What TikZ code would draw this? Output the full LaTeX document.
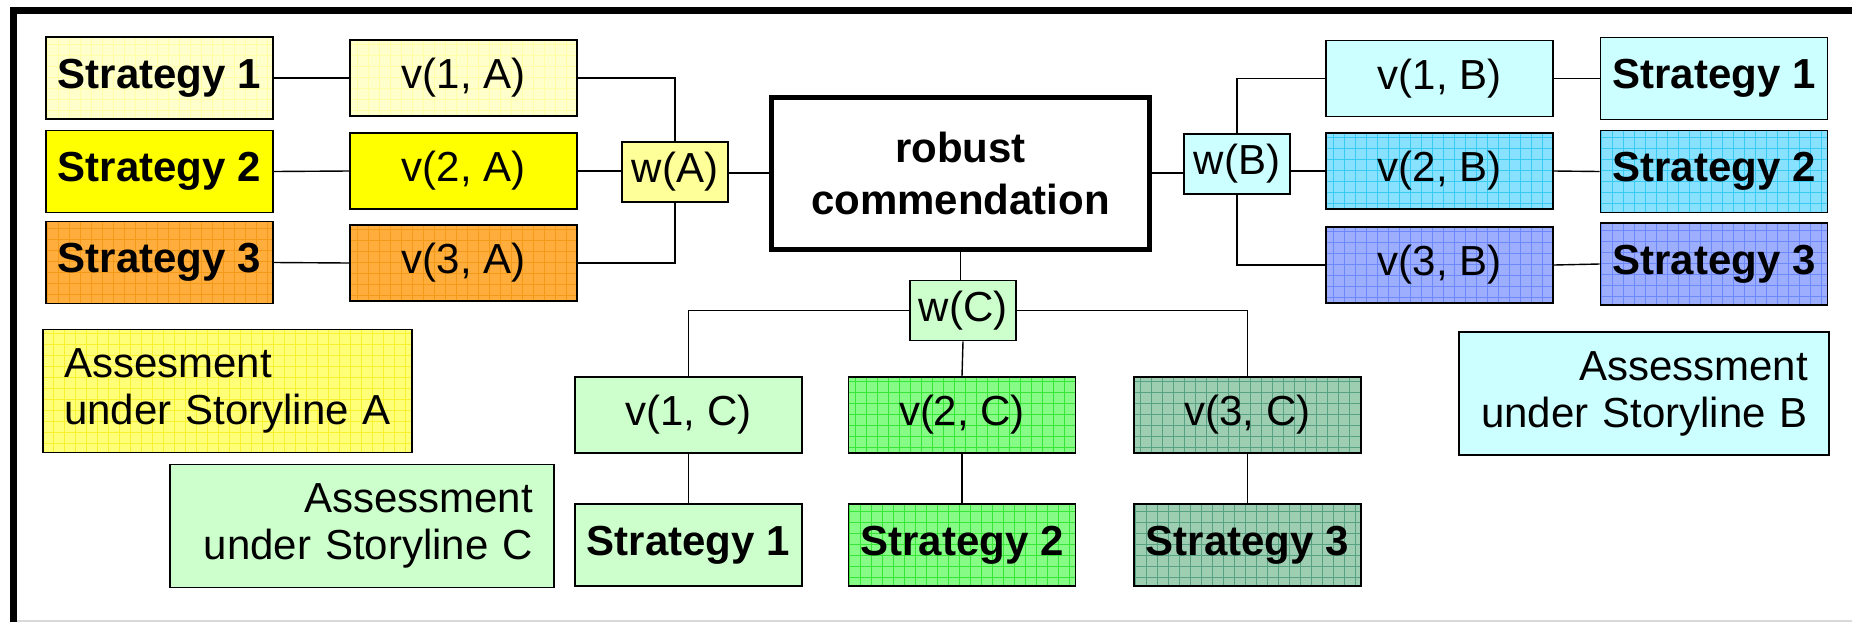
\documentclass[tikz,border=0pt]{standalone}
\usepackage{fontspec}
\setmainfont{Liberation Sans}

% fills
\definecolor{lyel}{HTML}{FFFFCC}
\definecolor{lyelline}{HTML}{FFFFA8}
\definecolor{yel}{HTML}{FFFF00}
\definecolor{orng}{HTML}{FFAD3C}
\definecolor{orngline}{HTML}{F59A18}
\definecolor{wyel}{HTML}{FFFF99}
\definecolor{asyel}{HTML}{FFFF78}
\definecolor{asyelline}{HTML}{F8F030}
\definecolor{lcyan}{HTML}{CCFFFF}
\definecolor{cyanfill}{HTML}{88E2FF}
\definecolor{cyanline}{HTML}{3ACBF5}
\definecolor{bluefill}{HTML}{9EAEFF}
\definecolor{blueline}{HTML}{6C88FA}
\definecolor{lgreen}{HTML}{CCFFCC}
\definecolor{greenfill}{HTML}{86FC86}
\definecolor{greenline}{HTML}{38E638}
\definecolor{sagefill}{HTML}{9ECEB2}
\definecolor{sageline}{HTML}{56A282}

\begin{document}
\begin{tikzpicture}[x=0.5pt,y=-0.5pt,
  box/.style={draw=black, line width=0.9pt, minimum width=113.5pt, inner sep=0pt,
    align=center, font=\fontsize{21}{25.5}\selectfont},
  strat/.style={box, minimum height=41pt, font=\fontsize{21}{25.5}\selectfont\bfseries},
  val/.style={box, minimum height=38pt},
  wbox/.style={box, minimum width=53pt, minimum height=30pt},
  assess/.style={box, minimum height=61.5pt, inner xsep=10.5pt,
    font=\fontsize{21}{23.5}\selectfont},
  meshed/.style 2 args={fill=#1, path picture={
    \draw[draw=#2, line width=0.4pt, step=5.5pt]
      (path picture bounding box.south west) grid (path picture bounding box.north east);}},
  link/.style={draw=black, line width=0.7pt}
]
\useasboundingbox (0,0) rectangle (1852,622);

% outer frame
\draw[gray!30, line width=1pt] (17,621) -- (1852,621);
\draw[line width=3.5pt] (13.5,622) -- (13.5,10.5) -- (1852,10.5);

% centre
\node[draw=black, line width=2.5pt, minimum width=189pt, minimum height=76pt,
  align=center, font=\fontsize{21}{26}\selectfont\bfseries]
  (rob) at (960.5,173) {robust\\commendation};

% storyline A
\node[strat, meshed={lyel}{lyelline}] (s1a) at (159.5,78) {Strategy 1};
\node[strat, fill=yel] (s2a) at (159.5,171.5) {Strategy 2};
\node[strat, meshed={orng}{orngline}] (s3a) at (159.5,262.5) {Strategy 3};
\node[val, meshed={lyel}{lyelline}] (v1a) at (463.5,78) {v(1, A)};
\node[val, fill=yel] (v2a) at (463.5,171) {v(2, A)};
\node[val, meshed={orng}{orngline}] (v3a) at (463.5,263) {v(3, A)};
\node[wbox, fill=wyel] (wa) at (675,172) {w(A)};

% storyline B
\node[val, fill=lcyan] (v1b) at (1439.5,78.5) {v(1, B)};
\node[val, meshed={cyanfill}{cyanline}] (v2b) at (1439.5,171) {v(2, B)};
\node[val, meshed={bluefill}{blueline}] (v3b) at (1439.5,265) {v(3, B)};
\node[strat, fill=lcyan] (s1b) at (1714,78.5) {Strategy 1};
\node[strat, meshed={cyanfill}{cyanline}] (s2b) at (1714,171.5) {Strategy 2};
\node[strat, meshed={bluefill}{blueline}] (s3b) at (1714,264) {Strategy 3};
\node[wbox, fill=lcyan] (wb) at (1237,164) {w(B)};

% storyline C
\node[wbox, fill=lgreen] (wc) at (963,310.5) {w(C)};
\node[val, fill=lgreen] (v1c) at (688.5,415) {v(1, C)};
\node[val, meshed={greenfill}{greenline}] (v2c) at (962,415) {v(2, C)};
\node[val, meshed={sagefill}{sageline}] (v3c) at (1247.5,415) {v(3, C)};
\node[strat, fill=lgreen] (s1c) at (688.5,545) {Strategy 1};
\node[strat, meshed={greenfill}{greenline}] (s2c) at (962,545) {Strategy 2};
\node[strat, meshed={sagefill}{sageline}] (s3c) at (1247.5,545) {Strategy 3};

% captions
\node[assess, minimum width=184.5pt, align=left, text width=163.5pt, meshed={asyel}{asyelline}]
  (asa) at (227.5,391) {Assesment\\under Storyline A};
\node[assess, minimum width=185pt, align=right, text width=164pt, fill=lcyan]
  (asb) at (1644,393.5) {Assessment\\under Storyline B};
\node[assess, minimum width=192pt, align=right, text width=171pt, fill=lgreen]
  (asc) at (362,526) {Assessment\\under Storyline C};

% links A
\draw[link] (s1a.east) -- (v1a.west);
\draw[link] (s2a.east) -- (v2a.west);
\draw[link] (s3a.east) -- (v3a.west);
\draw[link] (v1a.east) -| (wa.north);
\draw[link] (v3a.east) -| (wa.south);
\draw[link] (v2a.east) -- (v2a.east -| wa.west);
\draw[link] (wa.east |- rob.west) -- (rob.west);

% links B
\draw[link] (rob.east) -- (rob.east -| wb.west);
\draw[link] (wb.east |- v2b.west) -- (v2b.west);
\draw[link] (wb.north) |- (v1b.west);
\draw[link] (wb.south) |- (v3b.west);
\draw[link] (v1b.east) -- (s1b.west);
\draw[link] (v2b.east) -- (s2b.west);
\draw[link] (v3b.east) -- (s3b.west);

% links C
\draw[link] (rob.south) -- (rob.south |- wc.north);
\draw[link] (wc.west) -| (v1c.north);
\draw[link] (wc.east) -| (v3c.north);
\draw[link] (wc.south) -- (v2c.north);
\draw[link] (v1c.south) -- (s1c.north);
\draw[link] (v2c.south) -- (s2c.north);
\draw[link] (v3c.south) -- (s3c.north);
\end{tikzpicture}
\end{document}
